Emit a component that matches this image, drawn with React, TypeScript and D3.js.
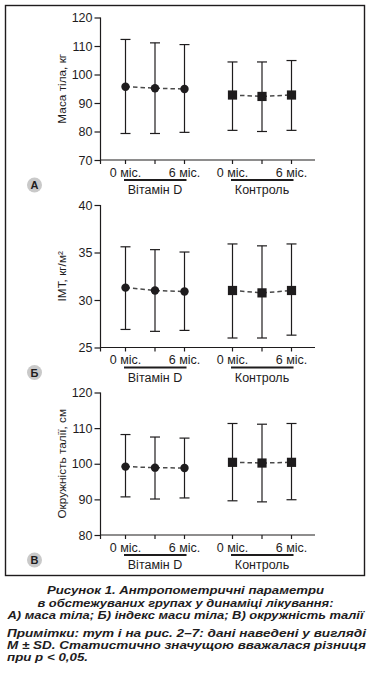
import React, { useEffect, useRef } from 'react'
import * as d3 from 'd3'

const groups = ['Вітамін D', 'Контроль']
const monthLabels = ['0 міс.', '', '6 міс.']

// body weight, kg (mean, lower and upper ends of the SD bars)
const weightMean = [[95.7, 95.2, 94.9], [92.8, 92.3, 92.8]]
const weightLow = [[79.3, 79.3, 79.7], [80.4, 80.0, 80.4]]
const weightHigh = [[112.3, 111.1, 110.5], [104.4, 104.4, 104.9]]
const weightTicks = [70, 80, 90, 100, 110, 120]

// BMI, kg/m2
const bmiMean = [[31.3, 31.0, 30.9], [31.0, 30.75, 31.0]]
const bmiLow = [[26.9, 26.7, 26.8], [26.0, 26.0, 26.3]]
const bmiHigh = [[35.6, 35.3, 35.05], [35.9, 35.7, 35.9]]
const bmiTicks = [25, 30, 35, 40]

// waist circumference, cm
const waistMean = [[99.2, 98.9, 98.8], [100.4, 100.2, 100.4]]
const waistLow = [[90.7, 90.1, 90.4], [89.6, 89.3, 89.9]]
const waistHigh = [[108.2, 107.5, 107.2], [111.3, 111.1, 111.3]]
const waistTicks = [80, 90, 100, 110, 120]

const captionLines = [
    'Рисунок 1.  Антропометричні параметри',
    'в обстежуваних групах у динаміці лікування:',
    'А) маса тіла; Б) індекс маси тіла; В) окружність талії',
]
const noteLines = [
    'Примітки: тут і на рис. 2–7: дані наведені у вигляді',
    'M ± SD. Статистично значущою вважалася різниця',
    'при p < 0,05.',
]

const panels = [
    { letter: 'А', title: 'Маса тіла, кг', ticks: weightTicks, mean: weightMean, low: weightLow, high: weightHigh, top: 17.5 },
    { letter: 'Б', title: 'ІМТ, кг/м²', ticks: bmiTicks, mean: bmiMean, low: bmiLow, high: bmiHigh, top: 205 },
    { letter: 'В', title: 'Окружність талії, см', ticks: waistTicks, mean: waistMean, low: waistLow, high: waistHigh, top: 392.5 },
]

const W = 373
const H = 689
const font = '"Liberation Sans", Arial, Helvetica, sans-serif'
const ink = '#1e1c1d'

function App() {
    const ref = useRef(null)

    useEffect(() => {
        const svg = d3.select(ref.current)
        svg.selectAll('*').remove()

        const axisLeft = 100.5
        const axisRight = 315
        const plotH = 142.5

        const gx = d3.scalePoint().domain(groups).range([155, 262])
        const mx = d3.scalePoint().domain(d3.range(3).map(String)).range([-29.5, 29.5])
        const xPos = (g, m) => gx(groups[g]) + mx(String(m))

        // frame
        svg.append('rect')
            .attr('x', 5.5).attr('y', 5.5)
            .attr('width', 359).attr('height', 570)
            .attr('fill', 'none').attr('stroke', ink).attr('stroke-width', 1.4)

        panels.forEach(p => {
            const bottom = p.top + plotH
            const y = d3.scaleLinear()
                .domain(d3.extent(p.ticks))
                .range([bottom, p.top])

            const g = svg.append('g')

            // y axis
            const ya = g.append('g')
                .attr('transform', `translate(${axisLeft},0)`)
                .call(d3.axisLeft(y).tickValues(p.ticks).tickSize(6).tickPadding(2).tickSizeOuter(0))
            ya.select('.domain').remove()
            ya.selectAll('.tick line').attr('stroke', ink).attr('stroke-width', 1.2)
            ya.selectAll('.tick text')
                .attr('font-family', font).attr('font-size', 12.5).attr('fill', ink)

            g.append('line')
                .attr('x1', axisLeft).attr('x2', axisLeft)
                .attr('y1', p.top).attr('y2', bottom + 4)
                .attr('stroke', ink).attr('stroke-width', 1.2)

            // x axis
            g.append('line')
                .attr('x1', axisLeft).attr('x2', axisRight)
                .attr('y1', bottom).attr('y2', bottom)
                .attr('stroke', ink).attr('stroke-width', 1.2)

            groups.forEach((grp, gi) => {
                d3.range(3).forEach(m => {
                    g.append('line')
                        .attr('x1', xPos(gi, m)).attr('x2', xPos(gi, m))
                        .attr('y1', bottom).attr('y2', bottom + 4)
                        .attr('stroke', ink).attr('stroke-width', 1.2)
                    if (monthLabels[m])
                        g.append('text')
                            .attr('x', xPos(gi, m)).attr('y', bottom + 16.5)
                            .attr('text-anchor', 'middle')
                            .attr('font-family', font).attr('font-size', 12.5).attr('fill', ink)
                            .text(monthLabels[m])
                })
                g.append('line')
                    .attr('x1', xPos(gi, 0) - 1.5).attr('x2', xPos(gi, 2) + 2)
                    .attr('y1', bottom + 20).attr('y2', bottom + 20)
                    .attr('stroke', ink).attr('stroke-width', 1.8)
                g.append('text')
                    .attr('x', gx(grp)).attr('y', bottom + 34)
                    .attr('text-anchor', 'middle')
                    .attr('font-family', font).attr('font-size', 12.5).attr('fill', ink)
                    .text(grp)
            })

            // y title
            g.append('text')
                .attr('transform', `translate(66,${(p.top + bottom) / 2}) rotate(-90)`)
                .attr('text-anchor', 'middle')
                .attr('font-family', font).attr('font-size', 11.8).attr('fill', ink)
                .text(p.title)

            // panel letter
            g.append('circle')
                .attr('cx', 34.5).attr('cy', bottom + 25)
                .attr('r', 7.5).attr('fill', '#c9c9c9')
            g.append('text')
                .attr('x', 34.5).attr('y', bottom + 29)
                .attr('text-anchor', 'middle')
                .attr('font-family', font).attr('font-size', 11).attr('font-weight', 'bold').attr('fill', ink)
                .text(p.letter)

            // series
            groups.forEach((grp, gi) => {
                const line = d3.line<number>()
                    .x((_d, m) => xPos(gi, m))
                    .y(d => y(d))
                g.append('path')
                    .attr('d', line(p.mean[gi]))
                    .attr('fill', 'none')
                    .attr('stroke', '#4a4a4a')
                    .attr('stroke-width', 1.5)
                    .attr('stroke-dasharray', '4.5,3')

                p.mean[gi].forEach((v, m) => {
                    const cx = xPos(gi, m)
                    const lo = y(p.low[gi][m])
                    const hi = y(p.high[gi][m])
                    g.append('line')
                        .attr('x1', cx).attr('x2', cx).attr('y1', lo).attr('y2', hi)
                        .attr('stroke', ink).attr('stroke-width', 1.2)
                    ;[lo, hi].forEach(yy => g.append('line')
                        .attr('x1', cx - 5).attr('x2', cx + 5).attr('y1', yy).attr('y2', yy)
                        .attr('stroke', ink).attr('stroke-width', 1.2))
                    if (gi === 0)
                        g.append('circle')
                            .attr('cx', cx).attr('cy', y(v)).attr('r', 4.2).attr('fill', ink)
                    else
                        g.append('rect')
                            .attr('x', cx - 4.6).attr('y', y(v) - 4.6)
                            .attr('width', 9.2).attr('height', 9.2).attr('fill', ink)
                })
            })
        })

        // caption
        const cap = svg.append('g')
            .attr('font-family', font).attr('font-size', 10.5)
            .attr('font-weight', 'bold').attr('font-style', 'italic').attr('fill', ink)
        const capY = [594, 606.5, 619]
        const capW = [277, 296, 356]
        captionLines.forEach((t, i) => cap.append('text')
            .attr('x', 185.5).attr('y', capY[i])
            .attr('text-anchor', 'middle')
            .attr('textLength', capW[i]).attr('lengthAdjust', 'spacingAndGlyphs')
            .text(t))
        const noteY = [637, 649, 661]
        const noteW = [359, 359, 81]
        noteLines.forEach((t, i) => cap.append('text')
            .attr('x', 7).attr('y', noteY[i])
            .attr('textLength', noteW[i]).attr('lengthAdjust', 'spacingAndGlyphs')
            .text(t))
    }, [])

    return <svg ref={ref} width={W} height={H} style={{ position: 'absolute', left: 0, top: 0, background: '#fff' }} />
}

export default App
